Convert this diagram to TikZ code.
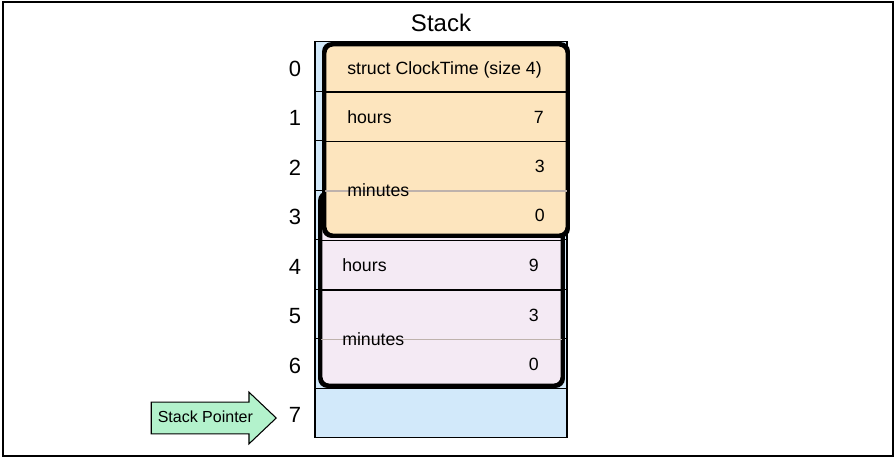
\documentclass[tikz,border=0pt]{standalone}
\usepackage{fontspec}
\setmainfont{Liberation Sans}
\usetikzlibrary{positioning,shapes.arrows}
\definecolor{stackblue}{RGB}{210,233,250}
\definecolor{orangefill}{RGB}{253,229,190}
\definecolor{pinkfill}{RGB}{244,234,244}
\definecolor{spgreen}{RGB}{179,242,204}
\definecolor{thrugray}{RGB}{190,178,172}
\tikzset{
  frame/.style={draw,line width=1.8pt},
  title/.style={font=\fontsize{18}{21}\selectfont,inner sep=0pt,anchor=base},
  cell/.style={draw,fill=stackblue,line width=1.1pt,minimum width=189pt,minimum height=37.125pt,inner sep=0pt},
  idx/.style={font=\fontsize{16.5}{19}\selectfont,inner sep=0pt,anchor=base},
  structbox/.style={draw,line width=2.2pt,rounded corners=6pt,inner sep=0pt},
  divider/.style={line width=1.1pt},
  thru/.style={line width=0.8pt,draw=thrugray},
  field/.style={font=\fontsize{13.3}{16}\selectfont,inner sep=0pt,anchor=base west},
  val/.style={font=\fontsize{13.3}{16}\selectfont,inner sep=0pt,anchor=base east},
  sptr/.style={single arrow,draw,fill=spgreen,line width=0.8pt,
    font=\fontsize{12}{14}\selectfont,text height=9pt,text depth=2.5pt,
    inner ysep=5.75pt,inner xsep=3.75pt,minimum height=93.75pt,
    single arrow head extend=7.5pt,single arrow tip angle=87}
}
\begin{document}
\begin{tikzpicture}[x=0.75pt,y=-0.75pt]
\useasboundingbox (0,0) rectangle (895,458);
\draw[frame] (3,2) rectangle (893,456);
\node[title] (title) at (441,31.7) {Stack};
% stack slots
\foreach \i in {0,...,7} {
  \node[cell] (c\i) at (441,{66.5+49.5*\i}) {};
  \node[idx] (n\i) at (295,{76+49.5*\i}) {\i};
}
% second struct (rows 3-6)
\node[structbox,fill=pinkfill,minimum width=180.75pt,minimum height=143.25pt] (sB) at (441.5,289.5) {};
\draw[thru] (sB.west |- c5.south) -- (sB.east |- c5.south);
\draw[divider] (sB.west |- c3.south) -- (sB.east |- c3.south);
\draw[divider] (sB.west |- c4.south) -- (sB.east |- c4.south);
\draw[structbox] (sB.north west) rectangle (sB.south east);
% first struct (rows 0-3)
\node[structbox,fill=orangefill,minimum width=181.5pt,minimum height=142.5pt] (sA) at (446,140) {};
\draw[thru] (sA.west |- c2.south) -- (sA.east |- c2.south);
\draw[divider] (sA.west |- c0.south) -- (sA.east |- c0.south);
\draw[divider] (sA.west |- c1.south) -- (sA.east |- c1.south);
\draw[structbox] (sA.north west) rectangle (sA.south east);
% labels of the first struct
\node[field] (hdA) at (347,74) {struct ClockTime (size 4)};
\node[field] (hrA) at (347,123.5) {hours};
\node[val] (hrAv) at (544,123.5) {7};
\node[val] (mnAhi) at (545,172.7) {3};
\node[field] (mnA) at (347,196.7) {minutes};
\node[val] (mnAlo) at (545,221.7) {0};
% labels of the second struct
\node[field] (hrB) at (342,271.7) {hours};
\node[val] (hrBv) at (539,271.7) {9};
\node[val] (mnBhi) at (539,321.7) {3};
\node[field] (mnB) at (342,345.7) {minutes};
\node[val] (mnBlo) at (539,370.7) {0};
% stack pointer
\node[sptr,anchor=tip] (sp) at (277,418) {Stack Pointer};
\end{tikzpicture}
\end{document}
